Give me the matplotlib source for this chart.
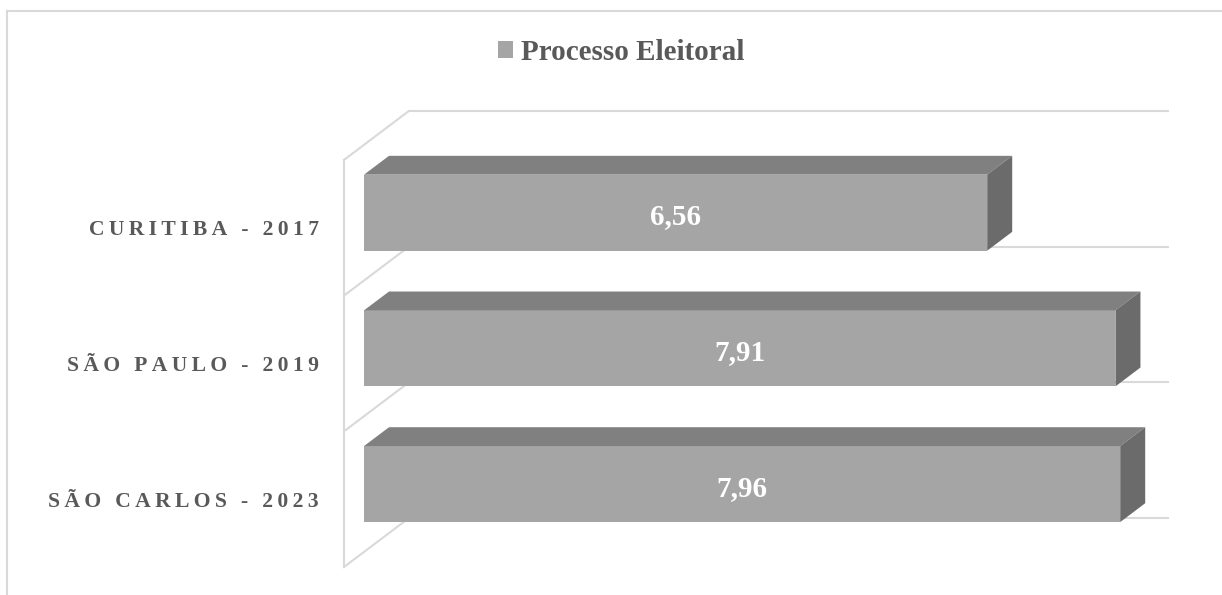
import matplotlib
matplotlib.use("Agg")
import matplotlib.pyplot as plt
from matplotlib.patches import Polygon, Patch
from matplotlib.lines import Line2D

# ---- data ----
categories = ["CURITIBA - 2017", "SÃO PAULO - 2019", "SÃO CARLOS - 2023"]
values = [6.56, 7.91, 7.96]
value_labels = ["6,56", "7,91", "7,96"]
series_name = "Processo Eleitoral"
x_max = 8

# ---- style ----
FRONT = "#a5a5a5"
TOP = "#808080"
SIDE = "#6b6b6b"
GRID = "#d9d9d9"
TXT = "#595959"
FONT = "Liberation Serif"

W, H = 1222, 595
fig = plt.figure(figsize=(W / 100, H / 100), dpi=100)

# axes geometry (pixels)
PX = 95.0      # px per value unit
PY = 135.7     # px per category unit
ax_l, ax_r, ax_t, ax_b = 330, 1190, 100, 580
wall_x0 = 344  # pixel of value 0 at depth 0
wall_yb = 567  # pixel of bottom boundary at depth 0
ax = fig.add_axes([ax_l / W, (H - ax_b) / H, (ax_r - ax_l) / W, (ax_b - ax_t) / H])
ax.set_xlim((ax_l - wall_x0) / PX, (ax_r - wall_x0) / PX)
ax.set_ylim(-0.5 - (ax_b - wall_yb) / PY, -0.5 + (wall_yb - ax_t) / PY)

DX = 65 / PX   # depth vector
DY = 49 / PY
f0, f1 = 20 / 65, 45 / 65
hh = 38 / PY   # half bar height

def P(x, y, d):
    return (x + d * DX, y + d * DY)

n = len(categories)
pos = [n - 1 - i for i in range(n)]

# walls / gridlines
bounds = [b - 0.5 for b in range(n + 1)]
for b in bounds:
    xa, ya = P(0, b, 1)
    xb, yb = P(x_max, b, 1)
    ax.plot([xa, xb], [ya, yb], color=GRID, lw=1.5, zorder=1, solid_capstyle="butt")
    xc, yc = P(0, b, 0)
    ax.plot([xc, xa], [yc, ya], color=GRID, lw=1.5, zorder=1)
ax.plot([0, 0], [bounds[0], bounds[-1]], color=GRID, lw=1.5, zorder=1)

# bars
for y, v, lab in zip(pos, values, value_labels):
    fx, fy = P(0, y, f0)
    ax.barh(fy, v, height=2 * hh, left=fx, color=FRONT, zorder=3)
    top = [P(0, y + hh, f0), P(v, y + hh, f0), P(v, y + hh, f1), P(0, y + hh, f1)]
    side = [P(v, y - hh, f0), P(v, y + hh, f0), P(v, y + hh, f1), P(v, y - hh, f1)]
    ax.add_patch(Polygon(top, closed=True, facecolor=TOP, edgecolor="none", zorder=3))
    ax.add_patch(Polygon(side, closed=True, facecolor=SIDE, edgecolor="none", zorder=3))
    ax.text(fx + v / 2, fy - 4 / PY, lab, ha="center", va="center", color="white",
            fontsize=21, fontweight="bold", family=FONT, zorder=4)

# category labels (letter-spaced)
ax.set_yticks(pos)
ax.set_yticklabels(["\u2009".join(c) for c in categories], family=[FONT, "DejaVu Serif"],
                   fontweight="bold", fontsize=15.6, color=TXT)
ax.tick_params(axis="y", length=0, pad=(ax_l - 319) * 0.72)
ax.set_xticks([])
for s in ax.spines.values():
    s.set_visible(False)
ax.patch.set_alpha(0)

# legend
fig.legend(handles=[Patch(facecolor=FRONT, edgecolor="none")], labels=[series_name],
           loc="center", bbox_to_anchor=(621 / W, 1 - 52 / H), frameon=False,
           handlelength=0.52, handleheight=0.52, handletextpad=0.25,
           prop={"family": FONT, "weight": "bold", "size": 21}, labelcolor=TXT)

# outer border (top and left visible)
fig.add_artist(Line2D([7 / W, 1], [1 - 11 / H, 1 - 11 / H], transform=fig.transFigure,
                      color=GRID, lw=1.5))
fig.add_artist(Line2D([7 / W, 7 / W], [0, 1 - 11 / H], transform=fig.transFigure,
                      color=GRID, lw=1.5))

fig.savefig("out.png", dpi=100)
